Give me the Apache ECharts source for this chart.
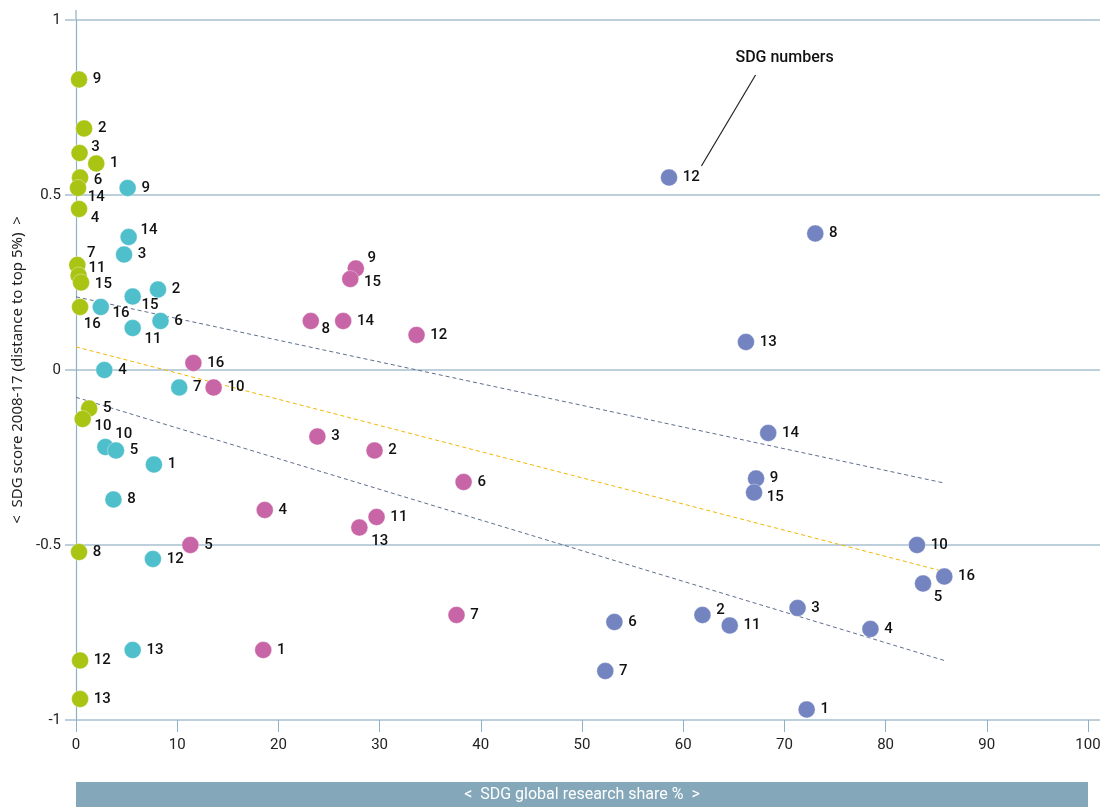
<!DOCTYPE html>
<html>
<head>
<meta charset="utf-8">
<style>
  html, body { margin: 0; padding: 0; background: #ffffff; }
  #chart { width: 1117px; height: 807px; }
</style>
<script src="https://cdn.jsdelivr.net/npm/echarts@6/dist/echarts.min.js"></script>
</head>
<body>
<div id="chart"></div>
<script>
// SDG numbers, one per point in each group
const sdgGreen   = [9, 2, 3, 1, 6, 14, 4, 7, 11, 15, 16, 5, 10, 8, 12, 13];
const xGreen     = [0.3, 0.8, 0.35, 2.0, 0.4, 0.2, 0.3, 0.13, 0.26, 0.5, 0.4, 1.3, 0.66, 0.3, 0.4, 0.4];
const yGreen     = [0.83, 0.69, 0.62, 0.59, 0.55, 0.52, 0.46, 0.30, 0.27, 0.25, 0.18, -0.11, -0.14, -0.52, -0.83, -0.94];

const sdgCyan    = [9, 14, 3, 2, 15, 16, 6, 11, 4, 7, 10, 5, 1, 8, 12, 13];
const xCyan      = [5.1, 5.2, 4.75, 8.1, 5.6, 2.45, 8.35, 5.6, 2.8, 10.2, 2.9, 3.95, 7.7, 3.7, 7.6, 5.6];
const yCyan      = [0.52, 0.38, 0.33, 0.23, 0.21, 0.18, 0.14, 0.12, 0.0, -0.05, -0.22, -0.23, -0.27, -0.37, -0.54, -0.80];

const sdgMagenta = [16, 10, 9, 15, 8, 14, 12, 3, 2, 6, 4, 11, 13, 5, 7, 1];
const xMagenta   = [11.6, 13.6, 27.65, 27.1, 23.2, 26.4, 33.65, 23.85, 29.5, 38.3, 18.65, 29.7, 28.0, 11.3, 37.6, 18.5];
const yMagenta   = [0.02, -0.05, 0.29, 0.26, 0.14, 0.14, 0.10, -0.19, -0.23, -0.32, -0.40, -0.42, -0.45, -0.50, -0.70, -0.80];

const sdgBlue    = [12, 8, 13, 14, 9, 15, 10, 16, 5, 3, 2, 11, 4, 6, 7, 1];
const xBlue      = [58.6, 73.05, 66.2, 68.4, 67.2, 67.0, 83.1, 85.8, 83.7, 71.3, 61.9, 64.6, 78.5, 53.2, 52.3, 72.2];
const yBlue      = [0.55, 0.39, 0.08, -0.18, -0.31, -0.35, -0.50, -0.59, -0.61, -0.68, -0.70, -0.73, -0.74, -0.72, -0.86, -0.97];

// Fitted trend and its confidence band, as [share %, score] end points
const trendLine  = [[0, 0.066], [85.8, -0.576]];
const bandUpper  = [[0, 0.209], [85.8, -0.323]];
const bandLower  = [[0, -0.078], [85.8, -0.830]];

// Axis ticks
const xTicks = [0, 10, 20, 30, 40, 50, 60, 70, 80, 90, 100];
const yTicks = [-1, -0.5, 0, 0.5, 1];

// Callout pointing at the SDG number labels
const calloutText  = 'SDG numbers';
const calloutStart = [67.15, 0.843];
const calloutEnd   = [61.8, 0.583];

// Label nudges (pixels) for crowded points, keyed by SDG number per group
const nudgeGreen   = { 3: [-2, -6], 6: [0, 3], 14: [-4, 9], 4: [-2, 9], 7: [-4, -12], 11: [-4, -7], 15: [0, 2], 16: [-10, 17], 10: [-2, 7] };
const nudgeCyan    = { 14: [-2, -7], 15: [-5, 9], 16: [-2, 6], 11: [-2, 11], 10: [-4, -13] };
const nudgeMagenta = { 9: [-2, -10], 15: [0, 3], 8: [-3, 8], 13: [-2, 14] };
const nudgeBlue    = { 15: [-1, 5], 5: [-3, 14], 2: [0, -5] };

const FONT = "'Roboto', sans-serif";
const AXIS_BLUE = '#8db1c5';
const GRID_BLUE = '#bccfda';

function points(xs, ys, sdgs, nudges) {
  return xs.map((x, i) => {
    const item = { value: [x, ys[i], sdgs[i]] };
    const n = nudges[sdgs[i]];
    if (n) item.label = { offset: n };
    return item;
  });
}

function scatter(name, color, xs, ys, sdgs, nudges) {
  return {
    name: name,
    type: 'scatter',
    symbolSize: 17,
    itemStyle: { color: color, opacity: 1, borderColor: 'rgba(255,255,255,0.6)', borderWidth: 0.6 },
    label: {
      show: true,
      position: 'right',
      distance: 5,
      formatter: p => String(p.value[2]),
      color: '#111',
      fontSize: 15,
      fontFamily: FONT,
      fontWeight: 500
    },
    emphasis: { disabled: true },
    data: points(xs, ys, sdgs, nudges),
    z: 5
  };
}

function dashed(name, color, pts) {
  return {
    name: name,
    type: 'line',
    data: pts,
    symbol: 'none',
    lineStyle: { color: color, width: 1, type: [4, 3] },
    emphasis: { disabled: true },
    silent: true,
    z: 3
  };
}

const chart = echarts.init(document.getElementById('chart'), null, { renderer: 'canvas' });

const yAxisBase = {
  type: 'value',
  min: -1,
  max: 1,
  interval: 0.5
};

chart.setOption({
  animation: false,
  backgroundColor: '#ffffff',
  grid: { left: 76, right: 29, top: 20, bottom: 87, containLabel: false },
  xAxis: {
    type: 'value',
    min: xTicks[0],
    max: xTicks[xTicks.length - 1],
    interval: 10,
    axisLine: { show: false, onZero: false },
    axisTick: { show: true, inside: false, length: 12, lineStyle: { color: AXIS_BLUE, width: 1 } },
    splitLine: { show: false },
    axisLabel: {
      margin: 18,
      color: '#222',
      fontSize: 15,
      fontFamily: FONT,
      formatter: v => (xTicks.indexOf(v) >= 0 ? String(v) : '')
    }
  },
  yAxis: [
    Object.assign({}, yAxisBase, {
      position: 'left',
      axisLine: { show: true, onZero: false, lineStyle: { color: AXIS_BLUE, width: 1.2 } },
      axisTick: { show: true, length: 11, lineStyle: { color: GRID_BLUE, width: 2 } },
      splitLine: { show: true, lineStyle: { color: GRID_BLUE, width: 2 } },
      axisLabel: {
        margin: 15,
        color: '#222',
        fontSize: 15,
        fontFamily: FONT,
        formatter: v => (yTicks.indexOf(v) >= 0 ? String(v) : '')
      },
      name: '<  SDG score 2008-17 (distance to top 5%)  >',
      nameLocation: 'middle',
      nameGap: 51,
      nameRotate: 90,
      nameTextStyle: { color: '#222', fontSize: 15, fontFamily: "'Noto Sans', sans-serif" }
    }),
    Object.assign({}, yAxisBase, {
      position: 'right',
      axisLine: { show: false, onZero: false },
      axisTick: { show: true, length: 12, lineStyle: { color: GRID_BLUE, width: 2 } },
      splitLine: { show: false },
      axisLabel: { show: false }
    })
  ],
  series: [
    dashed('band upper', '#5f6f8f', bandUpper),
    dashed('band lower', '#5f6f8f', bandLower),
    dashed('trend', '#f2b705', trendLine),
    scatter('group A', '#aac414', xGreen, yGreen, sdgGreen, nudgeGreen),
    scatter('group B', '#4fbfcc', xCyan, yCyan, sdgCyan, nudgeCyan),
    scatter('group C', '#c865a6', xMagenta, yMagenta, sdgMagenta, nudgeMagenta),
    scatter('group D', '#7384c1', xBlue, yBlue, sdgBlue, nudgeBlue)
  ]
});

// Decorations placed in data space: axis cap, callout, x-axis title bar
const toPx = (x, y) => chart.convertToPixel({ gridIndex: 0 }, [x, y]);
const axisTop = toPx(0, 1);
const c0 = toPx(calloutStart[0], calloutStart[1]);
const c1 = toPx(calloutEnd[0], calloutEnd[1]);
const barL = toPx(xTicks[0], -1);
const barR = toPx(xTicks[xTicks.length - 1], -1);

chart.setOption({
  graphic: [
    {
      type: 'line',
      shape: { x1: axisTop[0], y1: axisTop[1] - 10, x2: axisTop[0], y2: axisTop[1] },
      style: { stroke: AXIS_BLUE, lineWidth: 1.2 },
      silent: true
    },
    {
      type: 'line',
      shape: { x1: c0[0], y1: c0[1], x2: c1[0], y2: c1[1] },
      style: { stroke: '#222', lineWidth: 1.2 },
      silent: true
    },
    {
      type: 'text',
      x: c0[0] + 29,
      y: c0[1] - 9,
      style: {
        text: calloutText,
        fill: '#111',
        font: '500 16px ' + FONT,
        textAlign: 'center',
        textVerticalAlign: 'bottom'
      },
      silent: true
    },
    {
      type: 'rect',
      shape: { x: barL[0], y: 782, width: barR[0] - barL[0], height: 25 },
      style: { fill: '#84a7b9' },
      silent: true
    },
    {
      type: 'text',
      x: (barL[0] + barR[0]) / 2,
      y: 795,
      style: {
        text: '<  SDG global research share %  >',
        fill: '#ffffff',
        font: '16px ' + FONT,
        textAlign: 'center',
        textVerticalAlign: 'middle'
      },
      silent: true
    }
  ]
});
</script>
</body>
</html>
